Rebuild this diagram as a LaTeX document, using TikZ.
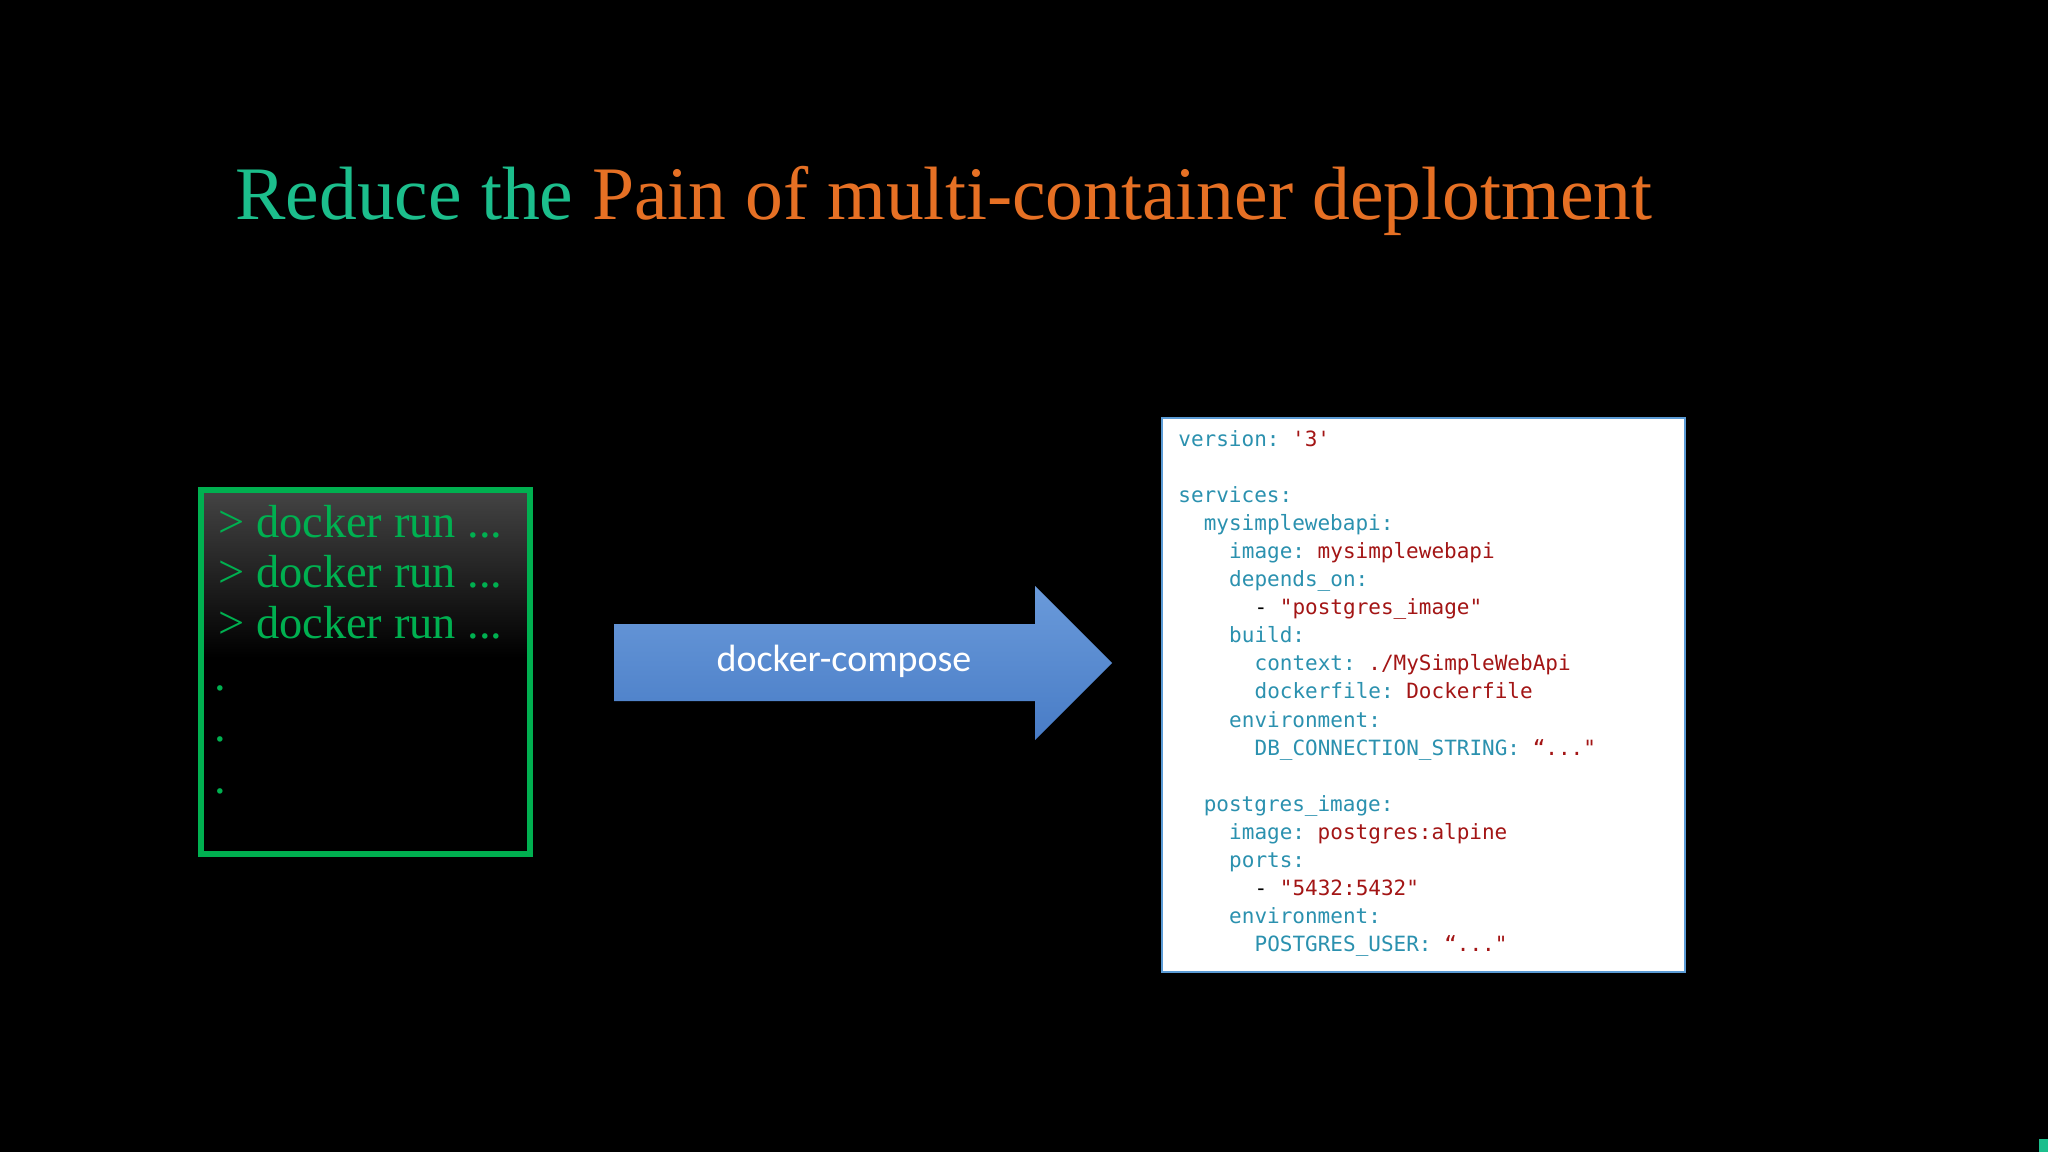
\documentclass[tikz,border=0pt]{standalone}
\usepackage{fontspec}
\setmainfont{Liberation Serif}
\setmonofont{DejaVu Sans Mono}
\newfontfamily\calfont{Carlito}
\usetikzlibrary{positioning}
\definecolor{titlegreen}{RGB}{28,190,140}
\definecolor{titleorange}{RGB}{230,112,36}
\definecolor{termgreen}{RGB}{0,176,80}
\definecolor{termgray}{RGB}{68,68,68}
\definecolor{arrowtop}{RGB}{106,154,218}
\definecolor{arrowbot}{RGB}{72,124,198}
\definecolor{yamlkey}{RGB}{43,145,175}
\definecolor{yamlval}{RGB}{163,21,21}
\definecolor{yamlborder}{RGB}{91,155,213}
\pgfdeclareverticalshading{termshade}{100bp}{color(0bp)=(black); color(25bp)=(black); color(52bp)=(black); color(75bp)=(termgray); color(100bp)=(termgray)}
\newcommand{\yk}[1]{\textcolor{yamlkey}{#1}}
\newcommand{\yv}[1]{\textcolor{yamlval}{#1}}

\begin{document}
\begin{tikzpicture}[
    x=0.5pt, y=-0.5pt,
    cmd/.style={anchor=base west, inner sep=0pt, text=termgreen, font=\fontsize{23.2}{27}\selectfont},
    termbox/.style={rectangle, draw=termgreen, line width=3pt, shading=termshade, minimum width=164.5pt, minimum height=182pt},
    yamlbox/.style={rectangle, draw=yamlborder, line width=1pt, fill=white, minimum width=261.5pt, minimum height=277pt},
    yamlline/.style={anchor=base west, inner sep=0pt, text=black, font=\fontsize{10.5}{14}\ttfamily},
    label/.style={anchor=base, inner sep=0pt, text=white, font=\calfont\fontsize{19}{23}\selectfont}
]
\fill[black] (0,0) rectangle (2048,1152);
\node[anchor=base west, inner sep=0pt, font=\fontsize{37.8}{45}\selectfont] (title) at (235,219)
    {\textcolor{titlegreen}{Reduce the} \textcolor{titleorange}{Pain of multi-container deplotment}};

\node[termbox] (term) at (365.5,672) {};
\foreach \i/\yy in {1/537,2/587,3/638}
    \node[cmd] (cmd\i) at (218,\yy) {> docker run ...};
\foreach \i/\yy in {1/690,2/741,3/793}
    \node[cmd] (dot\i) at (214,\yy) {.};

\shade[top color=arrowtop, bottom color=arrowbot]
    (614,624) -- (1035,624) -- (1035,586) -- (1112,663) -- (1035,740) -- (1035,701) -- (614,701) -- cycle;
\node[label] (compose) at (844,671) {docker-compose};

\node[yamlbox] (yaml) at (1423.5,695) {};
\foreach \i/\n/\txt in {
    0/0/{\yk{version:} \yv{'3'}},
    2/0/{\yk{services:}},
    3/1/{\yk{mysimplewebapi:}},
    4/2/{\yk{image:} \yv{mysimplewebapi}},
    5/2/{\yk{depends\_on:}},
    6/3/{- \yv{"postgres\_image"}},
    7/2/{\yk{build:}},
    8/3/{\yk{context:} \yv{./MySimpleWebApi}},
    9/3/{\yk{dockerfile:} \yv{Dockerfile}},
    10/2/{\yk{environment:}},
    11/3/{\yk{DB\_CONNECTION\_STRING:} \yv{“..."}},
    13/1/{\yk{postgres\_image:}},
    14/2/{\yk{image:} \yv{postgres:alpine}},
    15/2/{\yk{ports:}},
    16/3/{- \yv{"5432:5432"}},
    17/2/{\yk{environment:}},
    18/3/{\yk{POSTGRES\_USER:} \yv{“..."}}}
    \node[yamlline] (line\i) at ({1178+\n*25.4},{446+\i*28.1}) {\txt};

\fill[titlegreen] (2039,1139) rectangle (2048,1152);
\end{tikzpicture}
\end{document}
